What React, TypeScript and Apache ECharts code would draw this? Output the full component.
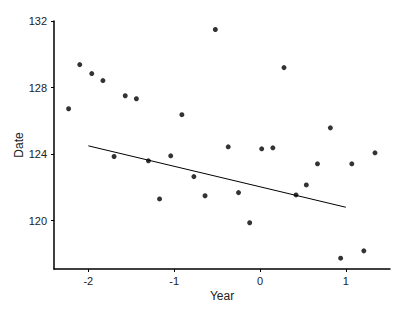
import React, { useEffect, useRef } from "react";
import * as echarts from "echarts";

const xValues = [-2.23, -2.1, -1.96, -1.83, -1.57, -1.44, -0.91, -1.7, -1.3, -1.04, -1.17, -0.77, -0.64, -0.52, -0.37, 0.02, 0.15, 0.28, 0.82, 1.34, -0.25, -0.12, 0.42, 0.54, 0.67, 1.07, 0.94, 1.21];
const yValues = [126.73, 129.38, 128.84, 128.42, 127.51, 127.33, 126.37, 123.86, 123.6, 123.9, 121.31, 122.65, 121.5, 131.49, 124.44, 124.32, 124.38, 129.2, 125.58, 124.08, 121.69, 119.88, 121.55, 122.15, 123.42, 123.42, 117.75, 118.19];
const lineX = [-2, 1];
const lineY = [124.5, 120.81];
const xTicks = [-2, -1, 0, 1];
const yTicks = [120, 124, 128, 132];

export default function App() {
  const ref = useRef<HTMLDivElement>(null);
  useEffect(() => {
    document.body.style.margin = "0";
    if (!ref.current) return;
    const chart = echarts.init(ref.current, undefined, { renderer: "svg" });
    const font = "Liberation Sans, Arial, sans-serif";
    chart.setOption({
      animation: false,
      backgroundColor: "#fff",
      grid: { left: 54, right: 20, top: 21, bottom: 45, containLabel: false },
      xAxis: {
        type: "value",
        min: -2.4,
        max: 1.515,
        name: "Year",
        nameLocation: "middle",
        nameGap: 21,
        nameMoveOverlap: false,
        nameTextStyle: { fontFamily: font, fontSize: 12, color: "#222" },
        axisLine: { show: true, onZero: false, lineStyle: { color: "#000", width: 1.5 } },
        axisTick: { show: true, length: 3, inside: false, customValues: xTicks, lineStyle: { color: "#000" } },
        axisLabel: { customValues: xTicks, margin: 6, fontFamily: font, fontSize: 11, color: "#222" },
        splitLine: { show: false },
      },
      yAxis: {
        type: "value",
        min: 117.1,
        max: 132,
        name: "Date",
        nameLocation: "middle",
        nameGap: 29,
        nameMoveOverlap: false,
        nameTextStyle: { fontFamily: font, fontSize: 12, color: "#222" },
        axisLine: { show: true, onZero: false, lineStyle: { color: "#000", width: 1.5 } },
        axisTick: { show: true, length: 3, inside: false, customValues: yTicks, lineStyle: { color: "#000" } },
        axisLabel: { customValues: yTicks, margin: 7, fontFamily: font, fontSize: 11, color: "#222" },
        splitLine: { show: false },
      },
      series: [
        {
          type: "scatter",
          data: xValues.map((x, i) => [x, yValues[i]]),
          symbol: "circle",
          symbolSize: 5,
          itemStyle: { color: "#000" },
        },
        {
          type: "line",
          data: lineX.map((x, i) => [x, lineY[i]]),
          symbol: "none",
          lineStyle: { color: "#000", width: 1 },
        },
      ],
    });
    return () => chart.dispose();
  }, []);
  return <div ref={ref} style={{ width: 410, height: 314 }} />;
}
